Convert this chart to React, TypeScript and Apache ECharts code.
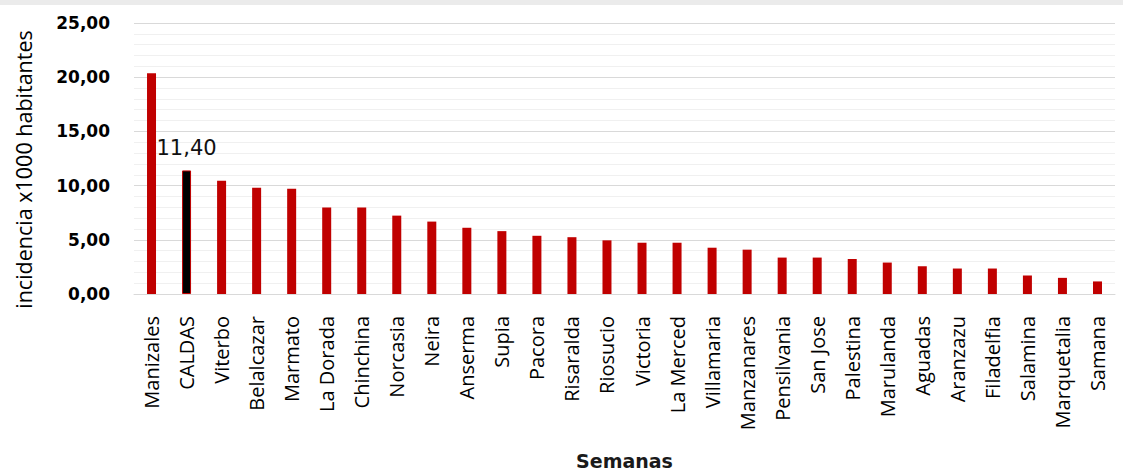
import React, { useEffect, useRef } from "react";
import * as echarts from "echarts";

const categories: string[] = [
  "Manizales", "CALDAS", "Viterbo", "Belalcazar", "Marmato", "La Dorada", "Chinchina",
  "Norcasia", "Neira", "Anserma", "Supia", "Pacora", "Risaralda", "Riosucio",
  "Victoria", "La Merced", "Villamaria", "Manzanares", "Pensilvania", "San Jose",
  "Palestina", "Marulanda", "Aguadas", "Aranzazu", "Filadelfia", "Salamina",
  "Marquetalia", "Samana",
];

const incidence: number[] = [
  20.37, 11.4, 10.45, 9.81, 9.71, 7.97, 7.97, 7.23, 6.68, 6.11, 5.8, 5.37, 5.24, 4.95,
  4.73, 4.73, 4.27, 4.09, 3.36, 3.36, 3.23, 2.9, 2.56, 2.35, 2.35, 1.71, 1.49, 1.16,
];

const highlighted = "CALDAS";
const yTicks = { min: 0, max: 25, interval: 5 };
const yAxisTitle = "incidencia x1000 habitantes";
const xAxisTitle = "Semanas";

const fmt = (v: number) => v.toFixed(2).replace(".", ",");

export default function App() {
  const ref = useRef<HTMLDivElement>(null);
  useEffect(() => {
    if (!ref.current) return;
    const chart = echarts.init(ref.current, null, { renderer: "svg" });
    const data = incidence.map((v, i) =>
      categories[i] === highlighted
        ? {
            value: v,
            itemStyle: { color: "#000000", borderColor: "#C00000", borderWidth: 1 },
            label: {
              show: true,
              position: "top",
              distance: 12,
              formatter: () => fmt(v),
              fontFamily: "DejaVu Sans",
              fontSize: 21,
              color: "#111111",
            },
          }
        : { value: v }
    );
    chart.setOption({
      animation: false,
      backgroundColor: "#ffffff",
      graphic: [
        {
          type: "rect",
          left: 0,
          top: 0,
          shape: { width: 1123, height: 5 },
          style: { fill: "#ebebeb" },
          silent: true,
        },
      ],
      grid: { left: 134, right: 8, top: 23, bottom: 179, containLabel: false },
      xAxis: {
        type: "category",
        data: categories,
        name: xAxisTitle,
        nameLocation: "middle",
        nameGap: 157,
        nameTextStyle: {
          fontFamily: "DejaVu Sans",
          fontWeight: "bold",
          fontSize: 19,
          color: "#1a1a1a",
        },
        axisLine: { show: true, lineStyle: { color: "#d9d9d9", width: 1 } },
        axisTick: { show: false },
        axisLabel: {
          rotate: 90,
          interval: 0,
          margin: 22,
          fontFamily: "Open Sans",
          fontSize: 20,
          color: "#000000",
        },
      },
      yAxis: {
        type: "value",
        min: yTicks.min,
        max: yTicks.max,
        interval: yTicks.interval,
        name: yAxisTitle,
        nameLocation: "middle",
        nameRotate: 90,
        nameGap: 100,
        nameTextStyle: {
          fontFamily: "Open Sans",
          fontSize: 21.5,
          color: "#000000",
          padding: [0, 22, 0, 0],
        },
        axisLine: { show: false },
        axisTick: { show: false },
        axisLabel: {
          margin: 24,
          formatter: (v: number) => fmt(v),
          fontFamily: "DejaVu Sans",
          fontWeight: "bold",
          fontSize: 17,
          color: "#000000",
        },
        splitLine: { show: true, lineStyle: { color: "#d9d9d9", width: 1 } },
        minorTick: { show: false, splitNumber: 5 },
        minorSplitLine: { show: true, lineStyle: { color: "#f0f0f0", width: 1 } },
      },
      series: [
        {
          type: "bar",
          data,
          barWidth: 9,
          itemStyle: { color: "#C00000" },
        },
      ],
    });
    return () => chart.dispose();
  }, []);
  return (
    <div
      ref={ref}
      style={{ position: "fixed", left: 0, top: 0, width: 1123, height: 475, background: "#fff" }}
    />
  );
}
